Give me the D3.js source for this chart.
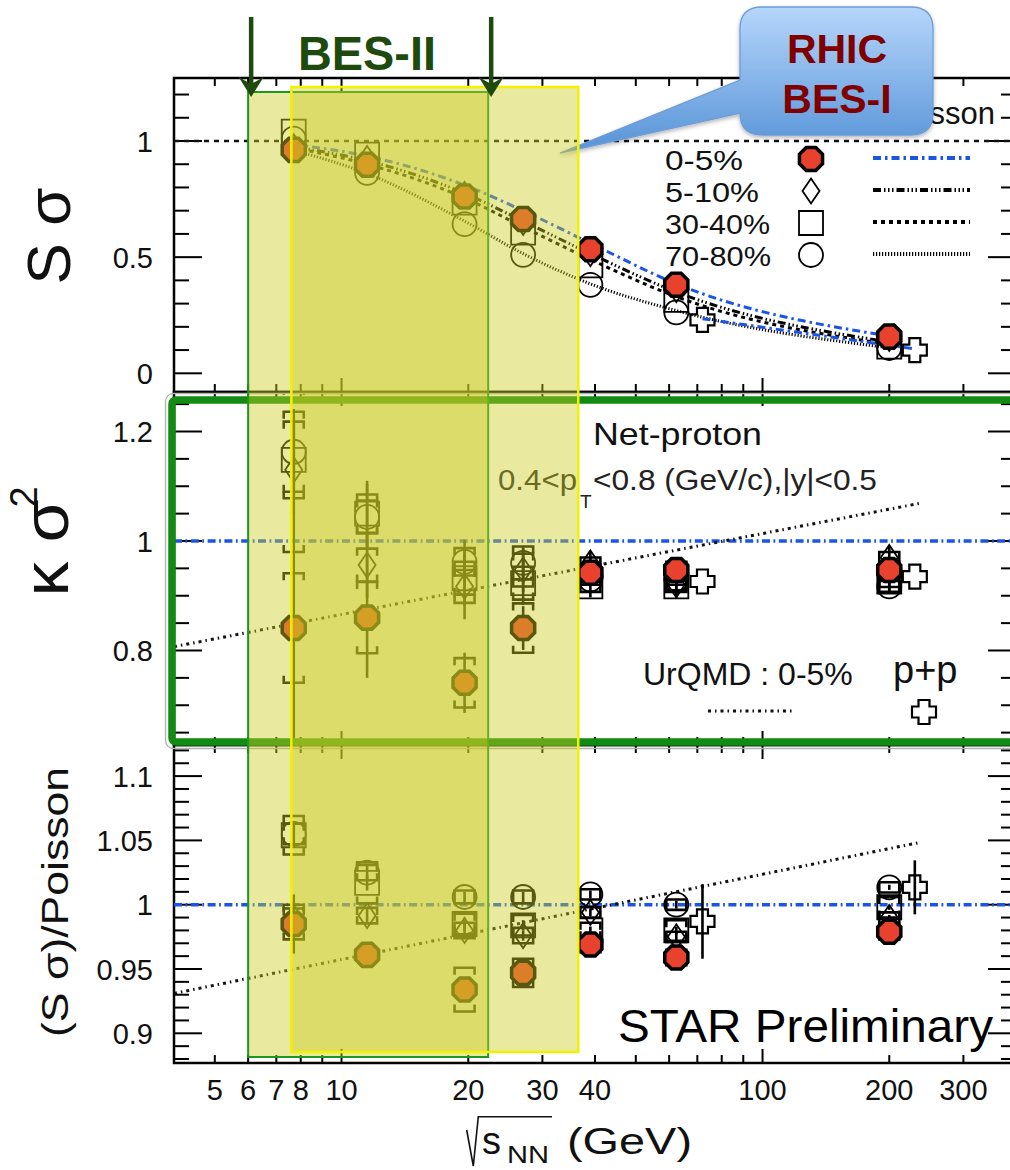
<!DOCTYPE html>
<html>
<head>
<meta charset="utf-8">
<script src="https://cdn.jsdelivr.net/npm/d3@7"></script>
<style>
  body { margin: 0; background: #fff; }
  svg { display: block; }
  text { font-family: "Liberation Sans", Arial, Helvetica, sans-serif; }
</style>
</head>
<body>
<svg id="chart" width="1010" height="1170"></svg>
<script>
// ---- collision energies (GeV) ----
const energies = [7.7, 11.5, 19.6, 27, 39, 62.4, 200];
const ppEnergies = [72, 230];              // p+p points, drawn just right of 62.4 and 200 GeV
const centralities = ["0-5%", "5-10%", "30-40%", "70-80%"];

// ---- S sigma ----
const ss0_5   = [0.962, 0.898, 0.761, 0.664, 0.534, 0.381, 0.158];
const ss5_10  = [0.975, 0.925, 0.770, 0.650, 0.515, 0.360, 0.150];
const ss30_40 = [1.040, 0.941, 0.735, 0.606, 0.465, 0.316, 0.115];
const ss70_80 = [1.010, 0.863, 0.642, 0.510, 0.381, 0.262, 0.109];
const ssPP    = [0.230, 0.100];
// baseline curves for S sigma, one per centrality
const ssBase0_5   = [0.985, 0.935, 0.810, 0.700, 0.560, 0.385, 0.160];
const ssBase5_10  = [0.975, 0.915, 0.775, 0.655, 0.515, 0.350, 0.135];
const ssBase30_40 = [0.970, 0.900, 0.755, 0.630, 0.490, 0.330, 0.125];
const ssBase70_80 = [0.960, 0.860, 0.655, 0.515, 0.385, 0.270, 0.110];
const ssBasePP    = [0.235, 0.105];

// ---- kappa sigma^2 ----
const k0_5       = [0.841, 0.860, 0.741, 0.841, 0.942, 0.947, 0.947];
const k0_5Stat   = [0.400, 0.110, 0.055, 0.040, 0.020, 0.020, 0.020];
const k0_5Sys    = [0.100, 0.065, 0.045, 0.045, 0.015, 0.015, 0.015];
const k5_10      = [1.130, 0.956, 0.917, 0.947, 0.960, 0.920, 0.970];
const k5_10Stat  = [0.080, 0.060, 0.060, 0.040, 0.020, 0.020, 0.020];
const k5_10Sys   = [0.150, 0.030, 0.030, 0.030, 0.010, 0.010, 0.010];
const k30_40     = [1.148, 1.050, 0.932, 0.923, 0.917, 0.917, 0.926];
const k30_40Stat = [0.070, 0.060, 0.050, 0.040, 0.020, 0.020, 0.020];
const k30_40Sys  = [0.070, 0.035, 0.030, 0.030, 0.010, 0.010, 0.010];
const k70_80     = [1.163, 1.044, 0.962, 0.960, 0.930, 0.930, 0.917];
const k70_80Stat = [0.060, 0.060, 0.040, 0.030, 0.010, 0.010, 0.010];
const k70_80Sys  = [0.073, 0.030, 0.025, 0.030, 0.010, 0.010, 0.010];
const kPP        = [0.926, 0.935];

// ---- (S sigma)/Poisson ----
const r0_5       = [0.985, 0.961, 0.934, 0.947, 0.969, 0.959, 0.979];
const r0_5Stat   = [0.023, 0.006, 0.005, 0.004, 0.003, 0.003, 0.002];
const r0_5Sys    = [0.012, 0.004, 0.017, 0.011, 0.006, 0.006, 0.006];
const r5_10      = [0.990, 0.9915, 0.980, 0.976, 0.994, 0.975, 0.990];
const r5_10Stat  = [0.010, 0.006, 0.005, 0.004, 0.003, 0.003, 0.002];
const r5_10Sys   = [0.010, 0.006, 0.006, 0.006, 0.004, 0.004, 0.004];
const r30_40     = [1.054, 1.017, 0.985, 0.984, 0.980, 0.980, 0.998];
const r30_40Stat = [0.008, 0.006, 0.005, 0.004, 0.003, 0.003, 0.002];
const r30_40Sys  = [0.015, 0.016, 0.008, 0.008, 0.006, 0.008, 0.008];
const r70_80     = [1.055, 1.025, 1.006, 1.006, 1.008, 1.000, 1.0135];
const r70_80Stat = [0.006, 0.005, 0.004, 0.004, 0.003, 0.003, 0.002];
const r70_80Sys  = [0.008, 0.006, 0.005, 0.005, 0.004, 0.004, 0.004];
const rPP        = [0.987, 1.0135];
const rPPStat    = [0.029, 0.021];

// ---- UrQMD 0-5% trend ----
const urqmdEnergy = [4, 237];
const urqmdKappa  = [0.807, 1.069];
const urqmdRatio  = [0.931, 1.0485];

// ---- energy bands ----
const besIIBand = [6, 22.3];
const besIBand  = [7.6, 36.5];

// ---- axis ticks ----
const xTickValues = [5, 6, 7, 8, 10, 20, 30, 40, 100, 200, 300];
const xTickLabels = ["5", "6", "7", "8", "10", "20", "30", "40", "100", "200", "300"];
const xMinorTicks = [5, 6, 7, 8, 9, 20, 30, 40, 50, 60, 70, 80, 90, 200, 300];
const xMajorTicks = [10, 100];
const sTicks = [0, 0.5, 1],              sTickLabels = ["0", "0.5", "1"];
const kTicks = [0.8, 1, 1.2],            kTickLabels = ["0.8", "1", "1.2"];
const rTicks = [0.9, 0.95, 1, 1.05, 1.1], rTickLabels = ["0.9", "0.95", "1", "1.05", "1.1"];

// ================= drawing =================
const svg = d3.select("#chart");
const defs = svg.append("defs");
const X0 = 174, X1 = 1016;
const x = d3.scaleLog().domain([4, 400]).range([X0, X1]);

const panels = [
  { id: "s", top: 78,  bottom: 392,  y: d3.scaleLinear().domain([0, 1]).range([373.3, 141]),
    major: 0.5, minor: 0.1, ticks: sTicks, labels: sTickLabels },
  { id: "k", top: 392, bottom: 745,  y: d3.scaleLinear().domain([0.8, 1.2]).range([650.5, 431.5]),
    major: 0.2, minor: 0.05, ticks: kTicks, labels: kTickLabels },
  { id: "r", top: 745, bottom: 1063, y: d3.scaleLinear().domain([0.9, 1.1]).range([1033.3, 776.1]),
    major: 0.05, minor: 0.01, ticks: rTicks, labels: rTickLabels }
];
const [pS, pK, pR] = panels;

panels.forEach(p => {
  defs.append("clipPath").attr("id", "clip-" + p.id)
    .append("rect").attr("x", X0).attr("y", p.top).attr("width", X1 - X0).attr("height", p.bottom - p.top);
});

const axes = svg.append("g");
const BLUE = "#1a55e6";

// frames, y ticks, x ticks
panels.forEach(p => {
  axes.append("rect").attr("x", X0).attr("y", p.top).attr("width", X1 - X0).attr("height", p.bottom - p.top)
    .attr("fill", "none").attr("stroke", "#000").attr("stroke-width", 2.5);
  const lo = p.y.invert(p.bottom), hi = p.y.invert(p.top);
  const kLo = Math.ceil(lo / p.minor - 1e-6), kHi = Math.floor(hi / p.minor + 1e-6);
  for (let k = kLo; k <= kHi; k++) {
    const v = k * p.minor;
    const isMajor = Math.abs(v / p.major - Math.round(v / p.major)) < 1e-6;
    const len = isMajor ? 28 : 15;
    const yy = p.y(v);
    if (yy < p.top + 1 || yy > p.bottom - 1) continue;
    axes.append("line").attr("x1", X0).attr("x2", X0 + len).attr("y1", yy).attr("y2", yy)
      .attr("stroke", "#000").attr("stroke-width", 2);
    axes.append("line").attr("x1", X1).attr("x2", X1 - len).attr("y1", yy).attr("y2", yy)
      .attr("stroke", "#000").attr("stroke-width", 2);
  }
  p.ticks.forEach((v, i) => {
    axes.append("text").attr("x", 153).attr("y", p.y(v) + 10.5).attr("text-anchor", "end")
      .attr("font-size", 29).attr("fill", "#111").text(p.labels[i]);
  });
  const xt = xMinorTicks.map(v => [v, 8]).concat(xMajorTicks.map(v => [v, 14]));
  xt.forEach(([v, len]) => {
    axes.append("line").attr("x1", x(v)).attr("x2", x(v)).attr("y1", p.top).attr("y2", p.top + len)
      .attr("stroke", "#000").attr("stroke-width", 2);
    axes.append("line").attr("x1", x(v)).attr("x2", x(v)).attr("y1", p.bottom).attr("y2", p.bottom - len)
      .attr("stroke", "#000").attr("stroke-width", 2);
  });
});

// x tick labels
xTickValues.forEach((v, i) => {
  axes.append("text").attr("x", x(v)).attr("y", 1100).attr("text-anchor", "middle")
    .attr("font-size", 29).attr("fill", "#111").text(xTickLabels[i]);
});

// x title: sqrt(s_NN) (GeV)
axes.append("path").attr("d", "M466.7,1130 L473.3,1166 L478.3,1116.7 L552,1116.7")
  .attr("fill", "none").attr("stroke", "#111").attr("stroke-width", 1.6);
axes.append("text").attr("x", 482).attr("y", 1154).attr("font-size", 38).attr("fill", "#111").text("s");
axes.append("text").attr("x", 507).attr("y", 1163).attr("font-size", 23).attr("fill", "#111")
  .attr("textLength", 42).attr("lengthAdjust", "spacingAndGlyphs").text("NN");
axes.append("text").attr("x", 567).attr("y", 1154).attr("font-size", 37).attr("fill", "#111")
  .attr("textLength", 125).attr("lengthAdjust", "spacingAndGlyphs").text("(GeV)");

// y titles
axes.append("text").attr("transform", "translate(70,236) rotate(-90)").attr("text-anchor", "middle")
  .attr("font-size", 62).attr("fill", "#111").text("S σ");
axes.append("text").attr("transform", "translate(68,548) rotate(-90)").attr("text-anchor", "middle")
  .attr("font-size", 64).attr("fill", "#111").attr("textLength", 97).attr("lengthAdjust", "spacingAndGlyphs").text("κ σ");
axes.append("text").attr("transform", "translate(37,497) rotate(-90)").attr("text-anchor", "middle")
  .attr("font-size", 38).attr("fill", "#111").text("2");
axes.append("text").attr("transform", "translate(68,902) rotate(-90)").attr("text-anchor", "middle")
  .attr("font-size", 37).attr("fill", "#111").attr("textLength", 270).attr("lengthAdjust", "spacingAndGlyphs")
  .text("(S σ)/Poisson");

// ---------- markers ----------
function markerPath(shape, cx, cy) {
  if (shape === "octagon") {
    const r = 12.5;
    return d3.range(8).map(k => {
      const a = (22.5 + 45 * k) * Math.PI / 180;
      return (k ? "L" : "M") + (cx + r * Math.cos(a)) + "," + (cy + r * Math.sin(a));
    }).join("") + "Z";
  }
  if (shape === "diamond") return `M${cx},${cy - 12.5}L${cx + 8.5},${cy}L${cx},${cy + 12.5}L${cx - 8.5},${cy}Z`;
  if (shape === "square") return `M${cx - 12},${cy - 12}h24v24h-24Z`;
  if (shape === "circle") return `M${cx - 12},${cy}a12,12 0 1,0 24,0a12,12 0 1,0 -24,0`;
  if (shape === "cross") {
    const a = 12, w = 5.5;
    return `M${cx - w},${cy - a}H${cx + w}V${cy - w}H${cx + a}V${cy + w}H${cx + w}V${cy + a}` +
           `H${cx - w}V${cy + w}H${cx - a}V${cy - w}H${cx - w}Z`;
  }
}
function drawMarker(g, shape, cx, cy) {
  const m = g.append("path").attr("d", markerPath(shape, cx, cy));
  if (shape === "octagon") m.attr("fill", "#e8412e").attr("stroke", "#000").attr("stroke-width", 3.5);
  else m.attr("fill", "none").attr("stroke", "#000").attr("stroke-width", shape === "cross" ? 2.2 : 1.8);
}
function drawErrors(g, ys, cx, v, stat, sys) {
  if (stat) g.append("line").attr("x1", cx).attr("x2", cx).attr("y1", ys(v - stat)).attr("y2", ys(v + stat))
    .attr("stroke", "#000").attr("stroke-width", 2.6);
  if (sys) {
    const yt = ys(v + sys), yb = ys(v - sys);
    g.append("path").attr("d", `M${cx - 10},${yt + 7}V${yt}H${cx + 10}V${yt + 7}M${cx - 10},${yb - 7}V${yb}H${cx + 10}V${yb - 7}`)
      .attr("fill", "none").attr("stroke", "#000").attr("stroke-width", 2.6);
  }
}

const shapes = { "0-5%": "octagon", "5-10%": "diamond", "30-40%": "square", "70-80%": "circle" };
const curveStyles = {
  "0-5%":   { stroke: BLUE,   dash: "8,4,2.5,4" },
  "5-10%":  { stroke: "#000", dash: "8,3,1.5,2.5,1.5,2.5,1.5,3" },
  "30-40%": { stroke: "#000", dash: "4,4" },
  "70-80%": { stroke: "#000", dash: "1.2,1.8" }
};

// ---------- panel 1: S sigma ----------
const g1 = svg.append("g").attr("clip-path", "url(#clip-s)");
g1.append("line").attr("x1", X0).attr("x2", X1).attr("y1", pS.y(1)).attr("y2", pS.y(1))
  .attr("stroke", "#111").attr("stroke-width", 2.6).attr("stroke-dasharray", "5,5");
const ssLine = d3.line().x(d => x(d[0])).y(d => pS.y(d[1])).curve(d3.curveMonotoneX);
[[ "70-80%", ssBase70_80], ["30-40%", ssBase30_40], ["5-10%", ssBase5_10], ["0-5%", ssBase0_5]].forEach(([c, vals]) => {
  g1.append("path").attr("d", ssLine(energies.map((e, i) => [e, vals[i]])))
    .attr("fill", "none").attr("stroke", curveStyles[c].stroke).attr("stroke-width", 3)
    .attr("stroke-dasharray", curveStyles[c].dash);
});
g1.append("path").attr("d", ssLine(ppEnergies.map((e, i) => [e, ssBasePP[i]])))
  .attr("fill", "none").attr("stroke", BLUE).attr("stroke-width", 3).attr("stroke-dasharray", "8,4,2.5,4");
[["70-80%", ss70_80], ["30-40%", ss30_40], ["5-10%", ss5_10], ["0-5%", ss0_5]].forEach(([c, vals]) => {
  energies.forEach((e, i) => drawMarker(g1, shapes[c], x(e), pS.y(vals[i])));
});
ppEnergies.forEach((e, i) => drawMarker(g1, "cross", x(e), pS.y(ssPP[i])));

// legend, panel 1
const lg = svg.append("g");
lg.append("text").attr("x", 995).attr("y", 124).attr("text-anchor", "end").attr("font-size", 31)
  .attr("fill", "#111").text("Poisson");
const legendY = [159, 191, 223, 255];
const legendW = [78, 94, 105, 106];
centralities.forEach((c, i) => {
  lg.append("text").attr("x", 665).attr("y", legendY[i] + 11).attr("font-size", 27).attr("fill", "#111")
    .attr("textLength", legendW[i]).attr("lengthAdjust", "spacingAndGlyphs").text(c);
  drawMarker(lg, shapes[c], 811, legendY[i]);
  lg.append("line").attr("x1", 873).attr("x2", 970).attr("y1", legendY[i] - 1).attr("y2", legendY[i] - 1)
    .attr("stroke", curveStyles[c].stroke).attr("stroke-width", 4).attr("stroke-dasharray", curveStyles[c].dash);
});

// ---------- panel 2: kappa sigma^2 ----------
const g2 = svg.append("g").attr("clip-path", "url(#clip-k)");
g2.append("line").attr("x1", X0).attr("x2", X1).attr("y1", pK.y(1)).attr("y2", pK.y(1))
  .attr("stroke", BLUE).attr("stroke-width", 3.5).attr("stroke-dasharray", "8,3.5,1.8,3.5");
g2.append("path").attr("d", d3.line().x(d => x(d[0])).y(d => pK.y(d[1]))(urqmdEnergy.map((e, i) => [e, urqmdKappa[i]])))
  .attr("fill", "none").attr("stroke", "#111").attr("stroke-width", 3).attr("stroke-dasharray", "3,4,1.5,4");
[["70-80%", k70_80, k70_80Stat, k70_80Sys], ["30-40%", k30_40, k30_40Stat, k30_40Sys],
 ["5-10%", k5_10, k5_10Stat, k5_10Sys], ["0-5%", k0_5, k0_5Stat, k0_5Sys]].forEach(([c, vals, st, sy]) => {
  energies.forEach((e, i) => drawErrors(g2, pK.y, x(e), vals[i], st[i], sy[i]));
});
[["70-80%", k70_80], ["30-40%", k30_40], ["5-10%", k5_10], ["0-5%", k0_5]].forEach(([c, vals]) => {
  energies.forEach((e, i) => drawMarker(g2, shapes[c], x(e), pK.y(vals[i])));
});
ppEnergies.forEach((e, i) => drawMarker(g2, "cross", x(e), pK.y(kPP[i])));

const t2 = svg.append("g");
t2.append("text").attr("x", 593).attr("y", 445).attr("font-size", 32).attr("fill", "#111")
  .attr("textLength", 169).attr("lengthAdjust", "spacingAndGlyphs").text("Net-proton");
t2.append("text").attr("x", 498).attr("y", 490).attr("font-size", 29).attr("fill", "#222")
  .attr("textLength", 79).attr("lengthAdjust", "spacingAndGlyphs").text("0.4<p");
t2.append("text").attr("x", 580).attr("y", 508).attr("font-size", 19).attr("fill", "#222").text("T");
t2.append("text").attr("x", 593).attr("y", 490).attr("font-size", 29).attr("fill", "#222")
  .attr("textLength", 284).attr("lengthAdjust", "spacingAndGlyphs").text("<0.8 (GeV/c),|y|<0.5");
t2.append("text").attr("x", 643).attr("y", 685).attr("font-size", 32).attr("fill", "#111").text("UrQMD : 0-5%");
t2.append("line").attr("x1", 708).attr("x2", 795).attr("y1", 711).attr("y2", 711)
  .attr("stroke", "#111").attr("stroke-width", 3).attr("stroke-dasharray", "3,4,1.5,4");
t2.append("text").attr("x", 893).attr("y", 683).attr("font-size", 38).attr("fill", "#111").text("p+p");
drawMarker(t2, "cross", 924, 712);

// ---------- panel 3: (S sigma)/Poisson ----------
const g3 = svg.append("g").attr("clip-path", "url(#clip-r)");
g3.append("line").attr("x1", X0).attr("x2", X1).attr("y1", pR.y(1)).attr("y2", pR.y(1))
  .attr("stroke", BLUE).attr("stroke-width", 3.5).attr("stroke-dasharray", "8,3.5,1.8,3.5");
g3.append("path").attr("d", d3.line().x(d => x(d[0])).y(d => pR.y(d[1]))(urqmdEnergy.map((e, i) => [e, urqmdRatio[i]])))
  .attr("fill", "none").attr("stroke", "#111").attr("stroke-width", 3).attr("stroke-dasharray", "3,4,1.5,4");
[["70-80%", r70_80, r70_80Stat, r70_80Sys], ["30-40%", r30_40, r30_40Stat, r30_40Sys],
 ["5-10%", r5_10, r5_10Stat, r5_10Sys], ["0-5%", r0_5, r0_5Stat, r0_5Sys]].forEach(([c, vals, st, sy]) => {
  energies.forEach((e, i) => drawErrors(g3, pR.y, x(e), vals[i], st[i], sy[i]));
});
ppEnergies.forEach((e, i) => drawErrors(g3, pR.y, x(e), rPP[i], rPPStat[i], 0));
[["70-80%", r70_80], ["30-40%", r30_40], ["5-10%", r5_10], ["0-5%", r0_5]].forEach(([c, vals]) => {
  energies.forEach((e, i) => drawMarker(g3, shapes[c], x(e), pR.y(vals[i])));
});
ppEnergies.forEach((e, i) => drawMarker(g3, "cross", x(e), pR.y(rPP[i])));

svg.append("text").attr("x", 618).attr("y", 1042).attr("font-size", 47).attr("fill", "#000")
  .attr("textLength", 375).attr("lengthAdjust", "spacingAndGlyphs").text("STAR Preliminary");

// ---------- highlight frame around the kappa sigma^2 panel ----------
svg.append("rect").attr("x", 165.5).attr("y", 393.5).attr("width", 870).attr("height", 355).attr("rx", 8)
  .attr("fill", "none").attr("stroke", "#a9b6a9").attr("stroke-width", 1.3);
svg.append("rect").attr("x", 172).attr("y", 400).attr("width", 860).attr("height", 342).attr("rx", 4)
  .attr("fill", "none").attr("stroke", "#138a13").attr("stroke-width", 7.5);

// ---------- RHIC BES-I callout ----------
const grad = defs.append("linearGradient").attr("id", "calloutFill")
  .attr("gradientUnits", "userSpaceOnUse").attr("x1", 0).attr("y1", 7).attr("x2", 0).attr("y2", 150);
grad.append("stop").attr("offset", 0).attr("stop-color", "#b6d6fb");
grad.append("stop").attr("offset", 1).attr("stop-color", "#5894d8");
const shadow = defs.append("filter").attr("id", "calloutShadow").attr("x", "-20%").attr("y", "-20%")
  .attr("width", "140%").attr("height", "140%");
shadow.append("feDropShadow").attr("dx", 0).attr("dy", 2).attr("stdDeviation", 2)
  .attr("flood-color", "#000").attr("flood-opacity", 0.3);
svg.append("path")
  .attr("d", "M762,7 H911 Q933,7 933,29 V113 Q933,135 911,135 H762 Q740,135 740,113 L560,153 L740,80 V29 Q740,7 762,7 Z")
  .attr("fill", "url(#calloutFill)").attr("stroke", "#6d9cd6").attr("stroke-width", 1.3)
  .attr("filter", "url(#calloutShadow)");
svg.append("text").attr("x", 837).attr("y", 63).attr("text-anchor", "middle").attr("font-size", 41)
  .attr("font-weight", "bold").attr("fill", "#800000").text("RHIC");
svg.append("text").attr("x", 837).attr("y", 113).attr("text-anchor", "middle").attr("font-size", 41)
  .attr("font-weight", "bold").attr("fill", "#800000").text("BES-I");

// ---------- energy bands ----------
const bandFill = "rgba(204,204,34,0.43)";
svg.append("rect").attr("x", x(besIIBand[0])).attr("y", 92)
  .attr("width", x(besIIBand[1]) - x(besIIBand[0])).attr("height", 1057 - 92)
  .attr("fill", bandFill).attr("stroke", "#1f961f").attr("stroke-width", 2);
svg.append("rect").attr("x", x(besIBand[0])).attr("y", 87)
  .attr("width", x(besIBand[1]) - x(besIBand[0])).attr("height", 1052 - 87)
  .attr("fill", bandFill).attr("stroke", "#f2f200").attr("stroke-width", 2.5);

// BES-II arrows and label
const DKGREEN = "#1e4a0e";
besIIBand.forEach(e => {
  const ax = x(e) + 3;
  svg.append("line").attr("x1", ax).attr("x2", ax).attr("y1", 17).attr("y2", 84)
    .attr("stroke", DKGREEN).attr("stroke-width", 4.5);
  svg.append("path").attr("d", `M${ax - 12.5},${77} L${ax},${97} L${ax + 12.5},${77} L${ax},${84} Z`)
    .attr("fill", DKGREEN);
});
svg.append("text").attr("x", 298).attr("y", 70).attr("font-size", 48).attr("font-weight", "bold")
  .attr("fill", DKGREEN).attr("textLength", 138).attr("lengthAdjust", "spacingAndGlyphs").text("BES-II");
</script>
</body>
</html>
